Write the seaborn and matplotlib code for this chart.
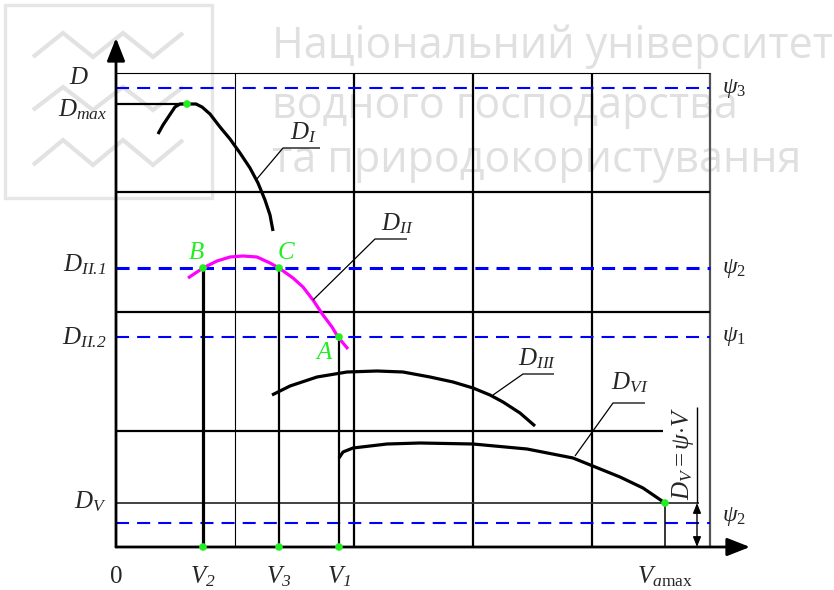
import matplotlib
matplotlib.use("Agg")
import matplotlib.pyplot as plt
import pandas as pd
import seaborn as sns
from matplotlib.patches import Rectangle

sns.set_theme(style="white")
plt.rcParams.update({
    "font.family": ["Liberation Serif", "DejaVu Serif"],
    "mathtext.fontset": "custom",
    "mathtext.rm": "Liberation Serif",
    "mathtext.it": "Liberation Serif:italic",
    "mathtext.bf": "Liberation Serif:bold",
    # italic slot that also slants digits and punctuation
    "mathtext.sf": "Liberation Serif:italic",
    "lines.scale_dashes": False,
    "lines.solid_capstyle": "butt",
})

# ---- chart values (drawing units, origin at the corner of the axes) ----
# characteristic curves D(V)
DI_V = [42, 47, 53, 59, 64, 71, 80, 86, 94, 104, 114, 124, 134, 142, 149, 154, 157]
DI_D = [413, 422, 431, 440, 443, 443, 443, 440, 433, 420, 408, 394, 379, 364, 347, 332, 316]

DII_V = [72, 87, 101, 114, 127, 141, 154, 163, 177, 187, 197, 207, 216, 222, 232]
DII_D = [269, 279, 286, 290, 291, 290, 284, 279, 269, 260, 247, 232, 220, 210, 198]

DIII_V = [156, 174, 201, 231, 261, 287, 314, 337, 357, 374, 387, 404, 419]
DIII_D = [152, 161, 170, 175, 176, 175, 170, 165, 159, 152, 145, 134, 121]

DVI_V = [223, 227, 237, 271, 304, 357, 411, 457, 504, 527, 549]
DVI_D = [89, 95, 99, 103, 104, 103, 98, 89, 70, 59, 44]

# speeds on the V axis
V_NAMES = [r"$V_{\mathsf{2}}$", r"$V_{\mathsf{3}}$", r"$V_{\mathsf{1}}$",
           r"$V_{a\mathrm{max}}$"]
V_VALUES = [87, 163, 223, 549]
V_TOPS = [279, 279, 210, 44]          # the D level each speed is read from
V_WIDTHS = [2.3, 1.6, 1.6, 1.1]

# D levels
D_MAX = 443
D_MAX_V = 71
D_V = 44
PSI_LEVELS = [459, 279, 210, 24]
PSI_NAMES = [r"$\psi_3$", r"$\psi_2$", r"$\psi_1$", r"$\psi_2$"]
PSI_LABEL_D = [459, 279, 210, 31]
PSI_WIDTHS = [1.5, 2.2, 1.5, 1.5]

# grid of the nomogram
GRID_V = [119, 238, 357, 476]
GRID_V_WIDTHS = [0.8, 1.6, 1.6, 1.6]
V_RIGHT = 594
GRID_D = [116, 235, 355]
GRID_D_ENDS = [547, 594, 594]
D_TOP = 474
V_ARROW = 634
D_ARROW = 509

# marked points
POINT_V = [71, 87, 163, 223, 87, 163, 223, 549]
POINT_D = [443, 279, 279, 210, 0, 0, 0, 44]
POINT_NAMES = ["B", "C", "A"]
POINT_NAME_V = [80, 170, 208]
POINT_NAME_D = [294, 294, 194]

# curve names with their leader lines
CURVE_NAMES = ["$D_I$", "$D_{II}$", "$D_{III}$", "$D_{VI}$"]
CURVE_NAME_V = [187, 281, 421, 514]
CURVE_NAME_D = [414, 323, 188, 164]
LEADER_V = [[140, 167, 204], [197, 259, 291], [377, 407, 438], [459, 497, 529]]
LEADER_D = [[367, 399, 399], [247, 308, 308], [152, 173, 173], [91, 144, 144]]

# left-hand D labels
D_NAMES = ["$D$", "$D_{max}$", r"$D_{\mathsf{II.}\!\mathsf{1}}$",
           r"$D_{\mathsf{II.}\!\mathsf{2}}$", "$D_V$"]
D_NAME_D = [469, 437, 282, 209, 45]

BLACK = "#000000"
BLUE = "#0000ff"
MAGENTA = "#ff00ff"
GREEN = "#22ee22"
WM = "#e0e0e0"
DASH = (0, (9.4, 5.8))
FS = 18


def frame(axis):
    axis.set_xlim(-116, 718)
    axis.set_ylim(-43, 547)
    axis.axis("off")


fig = plt.figure(figsize=(8.34, 5.90), dpi=100)
ax = fig.add_axes([0, 0, 1, 1])
frame(ax)
ax.patch.set_alpha(0)

# ---- faint emblem and caption in the background ----
ax.add_patch(Rectangle((0.006, 0.664), 0.248, 0.327, transform=ax.transAxes,
                       fill=False, ec="#e6e6e6", lw=2.4, zorder=0))
zig_x = [33, 63, 93, 123, 153, 183]
for top, bot in [(33, 57), (87, 110), (140, 165)]:
    ys = [bot, top, bot, top, bot, top]
    ax.plot([x / 834 for x in zig_x], [1 - y / 590 for y in ys],
            transform=ax.transAxes, color="#e2e2e2", lw=3, zorder=0,
            solid_joinstyle="miter")
for txt, base in [("Національний університет", 58),
                  ("водного господарства", 118),
                  ("та природокористування", 172)]:
    ax.text(272 / 834, 1 - base / 590, txt, transform=ax.transAxes,
            family=["Open Sans", "DejaVu Sans"], fontsize=31, color=WM,
            ha="left", va="baseline", zorder=0)

# ---- grid ----
for v, lw in zip(GRID_V, GRID_V_WIDTHS):
    ax.plot([v, v], [0, D_TOP], color=BLACK, lw=lw, zorder=2)
ax.plot([V_RIGHT, V_RIGHT], [0, D_TOP], color="#555555", lw=1.6, zorder=2)
for d, end in zip(GRID_D, GRID_D_ENDS):
    ax.plot([0, end], [d, d], color=BLACK, lw=1.6, zorder=2)
ax.plot([0, V_RIGHT], [D_TOP, D_TOP], color=BLACK, lw=0.8, zorder=2)
ax.plot([0, 583], [D_V, D_V], color="#333333", lw=1.3, zorder=2)
ax.plot([0, D_MAX_V], [D_MAX, D_MAX], color=BLACK, lw=1.6, zorder=2)

# ---- ψ levels ----
for d, lw in zip(PSI_LEVELS, PSI_WIDTHS):
    ax.plot([0, V_RIGHT], [d, d], color=BLUE, lw=lw, ls=DASH, zorder=3)
for d, name in zip(PSI_LABEL_D, PSI_NAMES):
    ax.text(606, d, name, fontsize=17, ha="left", va="center", zorder=7)

# ---- axes with arrows ----
arrow = dict(arrowstyle="-|>,head_length=14,head_width=5.5", color=BLACK,
             lw=2.0, shrinkA=0, shrinkB=0, mutation_scale=1)
ax.annotate("", xy=(0, D_ARROW), xytext=(0, 0), arrowprops=arrow, zorder=5)
ax.annotate("", xy=(V_ARROW, 0), xytext=(0, 0), arrowprops=arrow, zorder=5)

# ---- speed verticals ----
for v, top, lw in zip(V_VALUES, V_TOPS, V_WIDTHS):
    ax.plot([v, v], [0, top], color=BLACK, lw=lw, zorder=4)

# ---- characteristic curves ----
curves = pd.DataFrame({
    "V": DI_V + DIII_V + DVI_V,
    "D": DI_D + DIII_D + DVI_D,
    "curve": ["I"] * len(DI_V) + ["III"] * len(DIII_V) + ["VI"] * len(DVI_V),
})
sns.lineplot(data=curves, x="V", y="D", units="curve", estimator=None,
             sort=False, color=BLACK, lw=2.3, ax=ax, zorder=4)
sns.lineplot(x=DII_V, y=DII_D, estimator=None, sort=False, color=MAGENTA,
             lw=2.3, ax=ax, zorder=4)
frame(ax)

for xs, ys in zip(LEADER_V, LEADER_D):
    ax.plot(xs, ys, color=BLACK, lw=0.9, zorder=4)
for v, d, name in zip(CURVE_NAME_V, CURVE_NAME_D, CURVE_NAMES):
    ax.text(v, d, name, fontsize=FS, ha="center", va="center", zorder=7)

# ---- D_V = ψ·V marker ----
ax.plot([581, 581], [D_V, 140], color=BLACK, lw=1.0, zorder=4)
ax.annotate("", xy=(581, 0), xytext=(581, D_V),
            arrowprops=dict(arrowstyle="<|-|>,head_length=6,head_width=2.4",
                            color=BLACK, lw=1.0, shrinkA=0, shrinkB=0,
                            mutation_scale=1), zorder=5)
ax.text(567, 94, r"$D_V = \psi{\cdot}V$", rotation=90, fontsize=FS,
        ha="center", va="center", zorder=7)

# ---- points ----
sns.scatterplot(x=POINT_V, y=POINT_D, color=GREEN, s=30, edgecolor="none",
                ax=ax, zorder=6)
frame(ax)
for v, d, name in zip(POINT_NAME_V, POINT_NAME_D, POINT_NAMES):
    ax.text(v, d, f"${name}$", color=GREEN, fontsize=FS, ha="center",
            va="center", zorder=7)

# ---- axis labels ----
ax.text(-37, D_NAME_D[0], D_NAMES[0], fontsize=FS, ha="center", va="center")
for d, name in zip(D_NAME_D[1:], D_NAMES[1:]):
    ax.text(-9, d, name, fontsize=FS, ha="right", va="center")
ax.text(0, -30, "0", fontsize=FS, ha="center", va="center")
for v, name in zip(V_VALUES, V_NAMES):
    ax.text(v, -30, name, fontsize=FS, ha="center", va="center")

fig.savefig("out.png", dpi=100)
